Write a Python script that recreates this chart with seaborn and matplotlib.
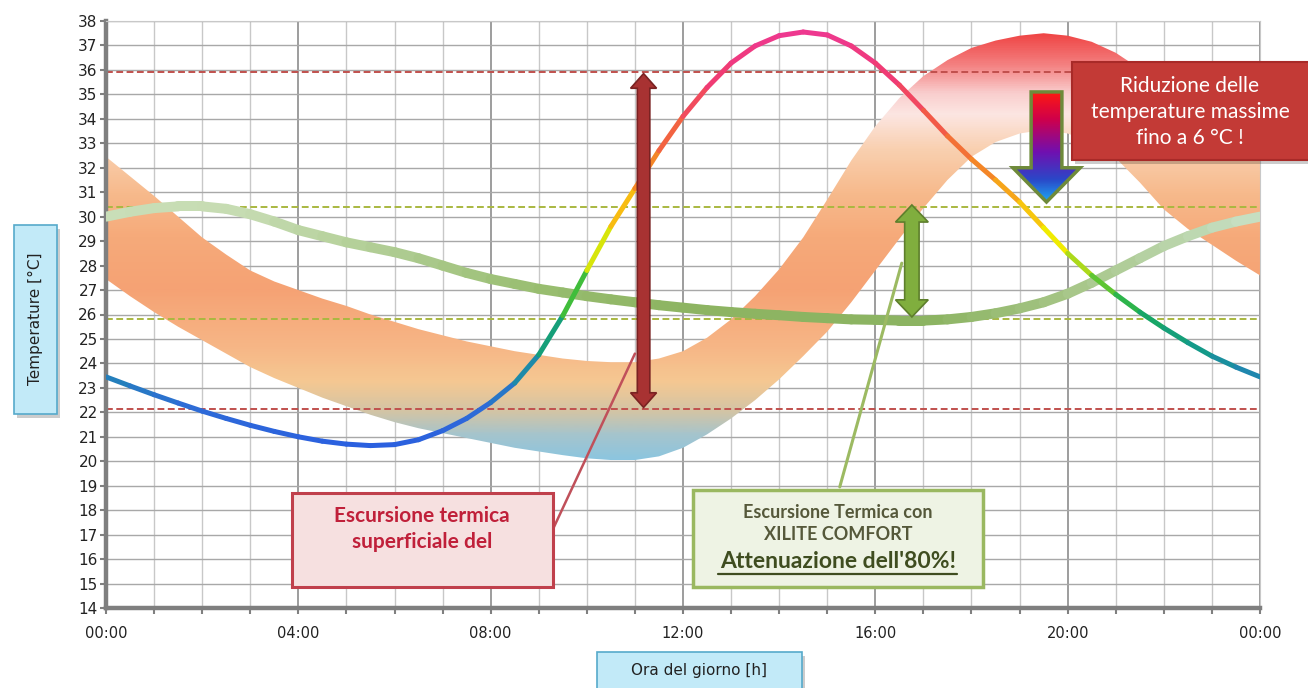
import numpy as np
import matplotlib.pyplot as plt
import seaborn as sns
from matplotlib.collections import LineCollection
from matplotlib.colors import LinearSegmentedColormap, Normalize
from matplotlib.patches import Polygon, PathPatch, Rectangle
from matplotlib.lines import Line2D


# Configuration
sns.set_theme(style="white")
plt.rcParams["font.family"] = ["DejaVu Sans"]
W, H = 1308, 688

# Values (hour of day, °C)
hours = np.arange(0, 24.5, 0.5)
surface_temp = [23.45, 23.08, 22.72, 22.38, 22.05, 21.75, 21.47, 21.22, 21.0, 20.82,
                20.7, 20.64, 20.68, 20.88, 21.25, 21.75, 22.4, 23.2, 24.35, 25.95,
                27.8, 29.6, 31.15, 32.7, 34.1, 35.28, 36.28, 36.98, 37.4, 37.55,
                37.43, 36.98, 36.28, 35.38, 34.35, 33.3, 32.35, 31.5, 30.6, 29.55,
                28.5, 27.6, 26.82, 26.1, 25.45, 24.85, 24.3, 23.85, 23.45]
xilite_temp = [30.0, 30.2, 30.35, 30.42, 30.42, 30.32, 30.1, 29.8, 29.45, 29.2,
               28.95, 28.75, 28.55, 28.3, 28.0, 27.7, 27.45, 27.25, 27.05, 26.9,
               26.75, 26.62, 26.5, 26.38, 26.28, 26.18, 26.1, 26.03, 25.97, 25.9,
               25.85, 25.8, 25.78, 25.75, 25.75, 25.8, 25.9, 26.05, 26.25, 26.5,
               26.85, 27.3, 27.8, 28.3, 28.8, 29.2, 29.55, 29.8, 30.0]
band_upper = [32.45, 31.65, 30.85, 30.0, 29.15, 28.45, 27.8, 27.35, 27.0, 26.65,
              26.35, 26.0, 25.7, 25.4, 25.15, 24.9, 24.7, 24.5, 24.35, 24.2,
              24.1, 24.05, 24.05, 24.2, 24.5, 25.05, 25.8, 26.75, 27.85, 29.15,
              30.7, 32.3, 33.7, 34.85, 35.75, 36.4, 36.9, 37.2, 37.4, 37.5,
              37.4, 37.15, 36.7, 36.05, 35.3, 34.65, 34.0, 33.25, 32.45]
band_lower = [27.45, 26.75, 26.1, 25.5, 24.95, 24.4, 23.85, 23.4, 23.0, 22.6,
              22.25, 21.9, 21.6, 21.35, 21.15, 20.95, 20.75, 20.55, 20.4, 20.25,
              20.12, 20.05, 20.05, 20.2, 20.55, 21.1, 21.75, 22.5, 23.35, 24.3,
              25.3, 26.5, 27.8, 29.1, 30.35, 31.5, 32.45, 33.05, 33.4, 33.55,
              33.4, 33.05, 32.4, 31.4, 30.3, 29.5, 28.85, 28.2, 27.6]
surface_limits = [35.9, 22.15]
xilite_limits = [30.4, 25.8]
hour_ticks = [0, 4, 8, 12, 16, 20, 24]
hour_labels = ["00:00", "04:00", "08:00", "12:00", "16:00", "20:00", "00:00"]
temp_ticks = list(range(14, 39))

# Arrow markers (hour, °C)
red_arrow = dict(x=11.18, y0=22.2, y1=35.85, shaft=0.13, head=0.27, head_len=0.6)
green_arrow = dict(x=16.76, y0=25.9, y1=30.48, shaft=0.15, head=0.34, head_len=0.7)
drop_arrow = dict(x=19.56, top=35.1, tip=30.6, shaft=0.32, head=0.70, head_len=1.4)

BOX_FONT = ["Lato", "DejaVu Sans"]


def px(x, y):
    return x / W, 1 - y / H


def fig_box(fig, x0, y0, x1, y1, face, edge, lw, z=5, shadow=False):
    fx0, fy1 = px(x0, y0)
    fx1, fy0 = px(x1, y1)
    if shadow:
        fig.add_artist(Rectangle((fx0 + 3 / W, fy0 - 4 / H), fx1 - fx0, fy1 - fy0,
                                 transform=fig.transFigure, facecolor="black",
                                 alpha=0.2, edgecolor="none", zorder=z - 0.1))
    fig.add_artist(Rectangle((fx0, fy0), fx1 - fx0, fy1 - fy0,
                             transform=fig.transFigure, facecolor=face,
                             edgecolor=edge, lw=lw, zorder=z))


def double_arrow(x, y0, y1, shaft, head, head_len):
    return [(x - shaft, y0 + head_len), (x - head, y0 + head_len), (x, y0),
            (x + head, y0 + head_len), (x + shaft, y0 + head_len),
            (x + shaft, y1 - head_len), (x + head, y1 - head_len), (x, y1),
            (x - head, y1 - head_len), (x - shaft, y1 - head_len)]


def down_arrow(x, top, tip, shaft, head, head_len):
    base = tip + head_len
    return [(x - shaft, top), (x + shaft, top), (x + shaft, base), (x + head, base),
            (x, tip), (x - head, base), (x - shaft, base)]


def gradient_line(ax, x, y, values, cmap, norm, lw, z):
    pts = np.column_stack([x, y])
    segs = np.stack([pts[:-1], pts[1:]], axis=1)
    vals = (np.asarray(values[:-1]) + np.asarray(values[1:])) / 2
    lc = LineCollection(segs, colors=cmap(norm(vals)), linewidths=lw,
                        capstyle="round", joinstyle="round", zorder=z)
    ax.add_collection(lc)


def main() -> None:
    fig = plt.figure(figsize=(W / 100, H / 100), dpi=100)
    fig.patch.set_facecolor("white")
    x0, y0 = px(106, 608)
    x1, y1 = px(1260, 21)
    ax = fig.add_axes([x0, y0, x1 - x0, y1 - y0])
    ax.set_facecolor("white")

    # temperature band with vertical colour gradient
    band_cmap = LinearSegmentedColormap.from_list("band", [
        (0.00, "#86c6e4"), (0.07, "#a6c4cc"), (0.12, "#d2c4a6"), (0.19, "#f5c892"),
        (0.27, "#f7b686"), (0.40, "#f5a274"), (0.52, "#f6aa7a"), (0.62, "#f7ba8c"),
        (0.72, "#f9d0b0"), (0.80, "#fce6e2"), (0.85, "#f9cccc"), (0.91, "#f48282"),
        (1.00, "#ee3636")])
    band_norm = Normalize(19.8, 37.8)
    band = ax.fill_between(hours, band_lower, band_upper, facecolor="none",
                           edgecolor="none")
    clip = PathPatch(band.get_paths()[0], transform=ax.transData,
                     facecolor="none", edgecolor="none")
    ax.add_patch(clip)
    grad = np.linspace(19.8, 37.8, 500).reshape(-1, 1)
    img = ax.imshow(grad, extent=[0, 24, 19.8, 37.8], origin="lower",
                    aspect="auto", cmap=band_cmap, norm=band_norm, zorder=1)
    img.set_clip_path(clip)

    # reference limits
    for v in surface_limits:
        sns.lineplot(x=[0, 24], y=[v, v], color="#c0504d", lw=1.4,
                     dashes=False, linestyle=(0, (3.5, 1.8)), ax=ax, zorder=2)
    for v in xilite_limits:
        sns.lineplot(x=[0, 24], y=[v, v], color="#a9b840", lw=1.4,
                     dashes=False, linestyle=(0, (3.5, 1.8)), ax=ax, zorder=2)

    # XILITE COMFORT curve
    green_cmap = LinearSegmentedColormap.from_list("green", [
        (0.0, "#c9deb8"), (0.12, "#c6dcb2"), (0.25, "#afcc92"), (0.38, "#98bd70"),
        (0.5, "#8db462"), (0.72, "#8cb462"), (0.83, "#a4c484"), (1.0, "#c8e0c4")])
    gradient_line(ax, hours, xilite_temp, hours, green_cmap, Normalize(0, 24), 7.2, 3)

    # surface temperature curve
    rainbow = LinearSegmentedColormap.from_list("rainbow", [
        (0.00, "#2b5fe0"), (0.10, "#2e6cd6"), (0.17, "#2282b8"), (0.24, "#149a88"),
        (0.32, "#18a860"), (0.37, "#3cbc3c"), (0.44, "#a8d81c"), (0.50, "#f2ec00"),
        (0.57, "#f8c010"), (0.66, "#f48a24"), (0.78, "#f25a48"), (0.88, "#f03c70"),
        (1.00, "#ee3890")])
    gradient_line(ax, hours, surface_temp, surface_temp, rainbow,
                  Normalize(20.5, 37.6), 3.6, 4)

    # arrows
    ax.add_patch(Polygon(double_arrow(**red_arrow), closed=True, facecolor="#a83232",
                         edgecolor="#7a2222", lw=1.2, zorder=6))
    ax.add_patch(Polygon(double_arrow(**green_arrow), closed=True, facecolor="#80ae3e",
                         edgecolor="#5e7f2c", lw=1.2, zorder=6))
    drop = Polygon(down_arrow(**drop_arrow), closed=True, facecolor="none",
                   edgecolor="#6e8a3a", lw=2.5, zorder=7)
    ax.add_patch(drop)
    drop_cmap = LinearSegmentedColormap.from_list("drop", [
        (0.0, "#1ea8f4"), (0.2, "#2a48c8"), (0.45, "#7010b0"), (0.75, "#d0004a"),
        (1.0, "#ff1a10")])
    dgrad = np.linspace(0, 1, 200).reshape(-1, 1)
    dimg = ax.imshow(dgrad, extent=[drop_arrow["x"] - 0.8, drop_arrow["x"] + 0.8,
                                    drop_arrow["tip"], drop_arrow["top"]],
                     origin="lower", aspect="auto", cmap=drop_cmap, zorder=6.5)
    dimg.set_clip_path(drop)

    # leader lines
    ax.plot([9.29, 11.0], [17.2, 24.4], color="#c0505a", lw=1.8, zorder=5,
            solid_capstyle="round")
    ax.plot([15.26, 16.55], [18.95, 28.1], color="#9cba62", lw=2.2, zorder=5,
            solid_capstyle="round")

    # axes, ticks and grid
    ax.set_xlim(0, 24)
    ax.set_ylim(14, 38)
    ax.set_xticks(hour_ticks)
    ax.set_xticklabels(hour_labels)
    ax.set_xticks(range(25), minor=True)
    ax.set_yticks(temp_ticks)
    ax.set_axisbelow(True)
    ax.yaxis.grid(True, color="#a8a8a8", lw=1.0)
    ax.xaxis.grid(True, which="minor", color="#c8c8c8", lw=1.0)
    ax.xaxis.grid(True, which="major", color="#8c8c8c", lw=1.2)
    for side in ["left", "bottom"]:
        ax.spines[side].set_color("#7f7f7f")
        ax.spines[side].set_linewidth(3.2)
    for side in ["top", "right"]:
        ax.spines[side].set_color("#c8c8c8")
        ax.spines[side].set_linewidth(0.8)
    ax.tick_params(axis="y", length=4, width=1.5, color="#808080", labelsize=11,
                   pad=2, labelcolor="#222222", left=True)
    ax.tick_params(axis="x", which="both", length=4, width=1.5, color="#808080",
                   labelsize=10.5, pad=9, labelcolor="#222222", bottom=True)

    # axis title boxes
    fig_box(fig, 14, 225, 57, 414, "#c2eaf8", "#56aacb", 1.2, shadow=True)
    fig.text(*px(35, 319), "Temperature [°C]", rotation=90, ha="center",
             va="center", fontsize=11, color="#222222", zorder=6)
    fig_box(fig, 597, 652, 802, 700, "#c2eaf8", "#56aacb", 1.2, shadow=True)
    fig.text(*px(699, 671), "Ora del giorno [h]", ha="center", va="center",
             fontsize=11, color="#222222", zorder=6)

    # callout boxes
    fig_box(fig, 1072, 62, 1312, 160, "#c33a36", "#a82a28", 1.5, z=8, shadow=True)
    for text, y in [("Riduzione delle", 86), ("temperature massime", 112),
                    ("fino a 6 °C !", 138)]:
        fig.text(*px(1190, y), text, ha="center", va="center", fontsize=15,
                 color="white", zorder=9, family=BOX_FONT)

    fig_box(fig, 292, 493, 553, 587, "#f6e0e0", "#c0404c", 2.2, z=8)
    for text, y in [("Escursione termica", 516), ("superficiale del", 542)]:
        fig.text(*px(422, y), text, ha="center", va="center", fontsize=15,
                 color="#c0203a", fontweight="bold", zorder=9, family=BOX_FONT)

    fig_box(fig, 693, 490, 983, 587, "#eef3e4", "#9ab860", 2.5, z=8)
    for text, y in [("Escursione Termica con", 512), ("XILITE COMFORT", 535)]:
        fig.text(*px(838, y), text, ha="center", va="center", fontsize=13,
                 color="#55583a", fontweight="bold", zorder=9, family=BOX_FONT)
    fig.text(*px(838, 561), "Attenuazione dell'80%!", ha="center", va="center",
             fontsize=16.5, color="#3f4d20", fontweight="bold", zorder=9,
             family=BOX_FONT)
    fig.add_artist(Line2D([718 / W, 957 / W], [1 - 574 / H, 1 - 574 / H],
                          transform=fig.transFigure, color="#3f4d20", lw=1.6,
                          zorder=9))

    fig.savefig("out.png", dpi=100, facecolor="white")
    plt.close(fig)


if __name__ == "__main__":
    main()
